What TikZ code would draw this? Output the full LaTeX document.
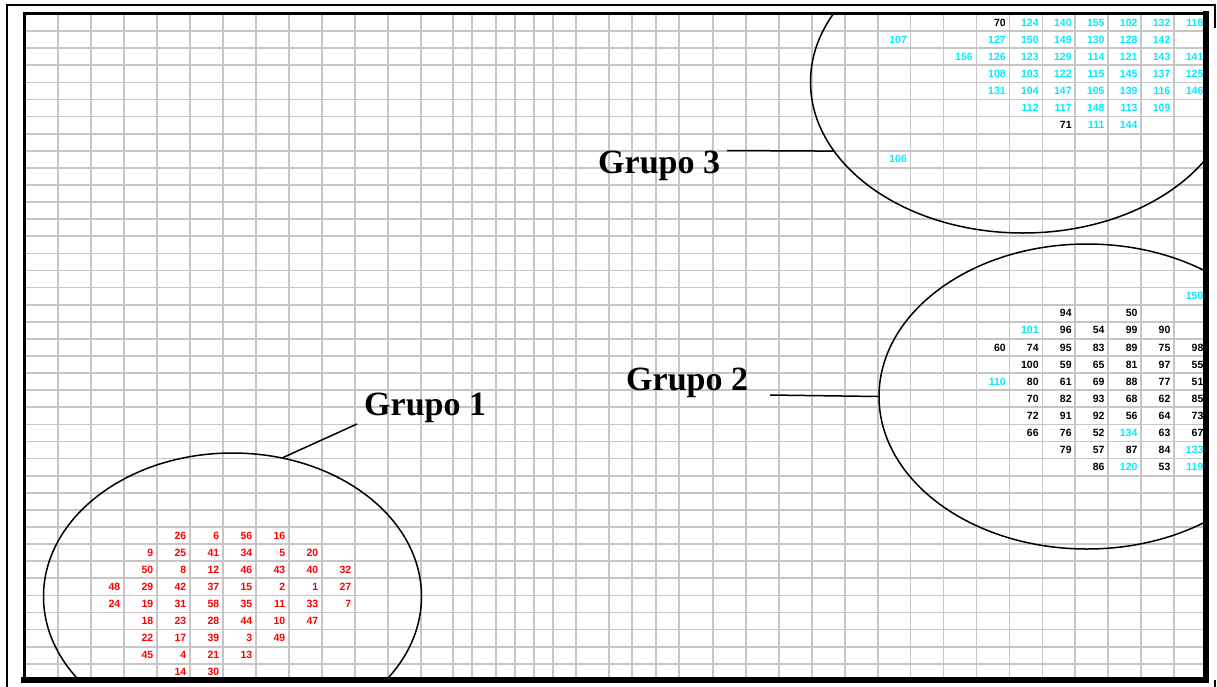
\documentclass[tikz,border=0pt]{standalone}
\usepackage{fontspec}
\setmainfont{Liberation Serif}
\newfontfamily\numfont{Liberation Sans}
\usetikzlibrary{shapes.geometric}
\definecolor{gridgray}{RGB}{198,198,198}
\definecolor{numred}{RGB}{255,0,0}
\definecolor{numcyan}{RGB}{0,235,255}
\tikzset{
  gridline/.style={draw=gridgray, line width=1.7pt},
  numbase/.style={font=\numfont\bfseries\fontsize{10.5}{10.5}\selectfont, anchor=east, inner sep=0pt},
  rnum/.style={numbase, text=numred},
  knum/.style={numbase, text=black},
  cnum/.style={numbase, text=numcyan},
  grplabel/.style={font=\bfseries\fontsize{34}{34}\selectfont, anchor=base west, inner sep=0pt},
  grpell/.style={ellipse, draw=black, line width=1.5pt, inner sep=0pt},
  leader/.style={draw=black, line width=1.5pt},
  frame/.style={draw=black, line cap=rect}
}
\begin{document}
\begin{tikzpicture}[x=1pt,y=-1pt]
\useasboundingbox (0,0) rectangle (1217,686);
\fill[white] (0,0) rectangle (1217,686);
\begin{scope}
\clip (25.5,15) rectangle (1203,677);
% grid
\foreach \k in {1,...,12} \draw[gridline] ({25+33*\k},14) -- ({25+33*\k},682);
\foreach \x in {453.3,472.3,495.7,515,534,552.7,575.7,609,632.3,655.7,679.3} \draw[gridline] (\x,14) -- (\x,682);
\foreach \j in {1,...,16} \draw[gridline] ({680+32.94*\j},14) -- ({680+32.94*\j},682);
\foreach \n in {1,...,39} \draw[gridline] (25,{14+17.1*\n}) -- (1207,{14+17.1*\n});
% group 1 numbers (red)
\foreach \c/\r/\t [count=\i] in {
 4/30/26,5/30/6,6/30/56,7/30/16,
 3/31/9,4/31/25,5/31/41,6/31/34,7/31/5,8/31/20,
 3/32/50,4/32/8,5/32/12,6/32/46,7/32/43,8/32/40,9/32/32,
 2/33/48,3/33/29,4/33/42,5/33/37,6/33/15,7/33/2,8/33/1,9/33/27,
 2/34/24,3/34/19,4/34/31,5/34/58,6/34/35,7/34/11,8/34/33,9/34/7,
 3/35/18,4/35/23,5/35/28,6/35/44,7/35/10,8/35/47,
 3/36/22,4/36/17,5/36/39,6/36/3,7/36/49,
 3/37/45,4/37/4,5/37/21,6/37/13,
 4/38/14,5/38/30}
  \node[rnum] (ra\i) at ({25+33*(\c+1)-3.5},{14+17.1*(\r+0.5)}) {\t};
% black numbers
\foreach \c/\r/\t [count=\i] in {
 11/17/94,13/17/50,
 11/18/96,12/18/54,13/18/99,14/18/90,
 9/19/60,10/19/74,11/19/95,12/19/83,13/19/89,14/19/75,15/19/98,
 10/20/100,11/20/59,12/20/65,13/20/81,14/20/97,15/20/55,
 10/21/80,11/21/61,12/21/69,13/21/88,14/21/77,15/21/51,
 10/22/70,11/22/82,12/22/93,13/22/68,14/22/62,15/22/85,
 10/23/72,11/23/91,12/23/92,13/23/56,14/23/64,15/23/73,
 10/24/66,11/24/76,12/24/52,14/24/63,15/24/67,
 11/25/79,12/25/57,13/25/87,14/25/84,
 12/26/86,14/26/53,
 9/0/70,11/6/71}
  \node[knum] (kb\i) at ({680+32.94*(\c+1)-3.5},{14+17.1*(\r+0.5)}) {\t};
% cyan numbers
\foreach \c/\r/\t [count=\i] in {
 15/16/150,10/18/101,9/21/110,13/24/134,15/25/133,13/26/120,15/26/119,
 10/0/124,11/0/140,12/0/155,13/0/102,14/0/132,15/0/118,
 6/1/107,9/1/127,10/1/150,11/1/149,12/1/130,13/1/128,14/1/142,
 8/2/156,9/2/126,10/2/123,11/2/129,12/2/114,13/2/121,14/2/143,15/2/141,
 9/3/108,10/3/103,11/3/122,12/3/115,13/3/145,14/3/137,15/3/125,
 9/4/131,10/4/104,11/4/147,12/4/105,13/4/139,14/4/116,15/4/146,
 10/5/112,11/5/117,12/5/148,13/5/113,14/5/109,
 12/6/111,13/6/144,
 6/8/106}
  \node[cnum] (cc\i) at ({680+32.94*(\c+1)-3.5},{14+17.1*(\r+0.5)}) {\t};
% ellipses
\node[grpell, minimum width=378pt, minimum height=287pt] (e1) at (232.5,596.5) {};
\node[grpell, minimum width=416pt, minimum height=305pt] (e2) at (1087,396.5) {};
\node[grpell, minimum width=425pt, minimum height=302pt] (e3) at (1023,82) {};
\end{scope}
% labels and leaders
\node[grplabel] (g1) at (364,415) {Grupo 1};
\node[grplabel] (g2) at (626,390) {Grupo 2};
\node[grplabel] (g3) at (598,173) {Grupo 3};
\coordinate (l1) at (357,424);
\coordinate (l2) at (770,395);
\coordinate (l3) at (727,150.5);
\draw[leader] (l1) -- (e1.70.5);
\draw[leader] (l2) -- (e2.west);
\draw[leader] (l3) -- (e3.200.3);
% inner border
\draw[frame, line width=3pt] (24,680) -- (24,13.5) -- (1205.5,13.5);
\draw[frame, line width=5.5pt] (1205.75,13.5) -- (1205.75,679.75) -- (24,679.75);
% outer frame
\draw[frame, line width=2.4pt] (7,686) -- (7,5) -- (1215,5) -- (1215,27);
\draw[frame, line width=2.4pt] (1215,681) -- (1215,686);
\end{tikzpicture}
\end{document}
